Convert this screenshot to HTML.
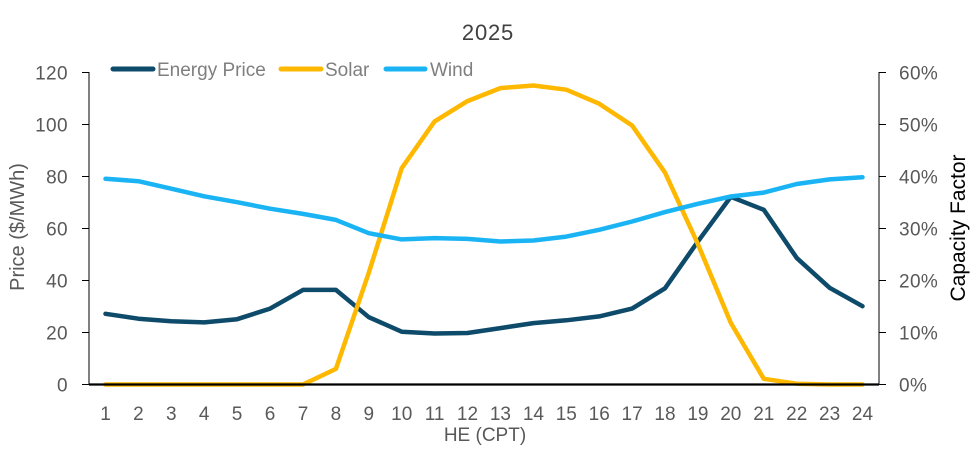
<!DOCTYPE html>
<html>
<head>
<meta charset="utf-8">
<style>
html,body{margin:0;padding:0;background:#fff;}
svg{display:block;}
text{font-family:"Liberation Sans",Arial,sans-serif;}
</style>
</head>
<body>
<svg width="977" height="452" viewBox="0 0 977 452" xmlns="http://www.w3.org/2000/svg">
<rect width="977" height="452" fill="#fff"/>
<!-- Title -->
<text x="488" y="40" font-size="22" fill="#404040" text-anchor="middle" letter-spacing="0.8">2025</text>

<!-- Legend -->
<g stroke-linecap="round" stroke-width="5">
<line x1="113" y1="69" x2="153" y2="69" stroke="#0E4A6A"/>
<line x1="281" y1="69" x2="321" y2="69" stroke="#FFB800"/>
<line x1="386" y1="69" x2="425" y2="69" stroke="#1AB4F5"/>
</g>
<g font-size="19" fill="#7F7F7F">
<text x="157" y="76">Energy Price</text>
<text x="325" y="76">Solar</text>
<text x="430" y="76">Wind</text>
</g>

<!-- Axes -->
<line x1="89" y1="72" x2="89" y2="385" stroke="#000" stroke-width="1"/>
<line x1="879" y1="72" x2="879" y2="385" stroke="#000" stroke-width="1"/>
<g stroke="#000" stroke-width="1">
<line x1="82" y1="72.5" x2="89" y2="72.5"/>
<line x1="82" y1="124.5" x2="89" y2="124.5"/>
<line x1="82" y1="176.5" x2="89" y2="176.5"/>
<line x1="82" y1="228.5" x2="89" y2="228.5"/>
<line x1="82" y1="280.5" x2="89" y2="280.5"/>
<line x1="82" y1="332.5" x2="89" y2="332.5"/>
<line x1="82" y1="384.5" x2="89" y2="384.5"/>
<line x1="879" y1="72.5" x2="886" y2="72.5"/>
<line x1="879" y1="124.5" x2="886" y2="124.5"/>
<line x1="879" y1="176.5" x2="886" y2="176.5"/>
<line x1="879" y1="228.5" x2="886" y2="228.5"/>
<line x1="879" y1="280.5" x2="886" y2="280.5"/>
<line x1="879" y1="332.5" x2="886" y2="332.5"/>
<line x1="879" y1="384.5" x2="886" y2="384.5"/>
</g>

<!-- Left tick labels -->
<g font-size="19" fill="#595959" text-anchor="end" letter-spacing="0.4">
<text x="68" y="79.5">120</text>
<text x="68" y="131.5">100</text>
<text x="68" y="183.5">80</text>
<text x="68" y="235.5">60</text>
<text x="68" y="287.5">40</text>
<text x="68" y="339.5">20</text>
<text x="68" y="391.5">0</text>
</g>
<!-- Right tick labels -->
<g font-size="19" fill="#595959" letter-spacing="0.4">
<text x="899" y="79.5">60%</text>
<text x="899" y="131.5">50%</text>
<text x="899" y="183.5">40%</text>
<text x="899" y="235.5">30%</text>
<text x="899" y="287.5">20%</text>
<text x="899" y="339.5">10%</text>
<text x="899" y="391.5">0%</text>
</g>

<!-- X tick labels -->
<g font-size="19" fill="#595959" text-anchor="middle">
<text x="105.5" y="420">1</text>
<text x="138.4" y="420">2</text>
<text x="171.3" y="420">3</text>
<text x="204.2" y="420">4</text>
<text x="237.1" y="420">5</text>
<text x="270.1" y="420">6</text>
<text x="303.0" y="420">7</text>
<text x="335.9" y="420">8</text>
<text x="368.8" y="420">9</text>
<text x="401.7" y="420">10</text>
<text x="434.6" y="420">11</text>
<text x="467.5" y="420">12</text>
<text x="500.4" y="420">13</text>
<text x="533.4" y="420">14</text>
<text x="566.3" y="420">15</text>
<text x="599.2" y="420">16</text>
<text x="632.1" y="420">17</text>
<text x="665.0" y="420">18</text>
<text x="697.9" y="420">19</text>
<text x="730.8" y="420">20</text>
<text x="763.8" y="420">21</text>
<text x="796.7" y="420">22</text>
<text x="829.6" y="420">23</text>
<text x="862.5" y="420">24</text>
</g>

<!-- Axis titles -->
<text x="485" y="441" font-size="19" fill="#595959" text-anchor="middle">HE (CPT)</text>
<text transform="translate(24,227) rotate(-90)" font-size="20" fill="#595959" text-anchor="middle">Price ($/MWh)</text>
<text transform="translate(965,228) rotate(-90)" font-size="21" fill="#000" text-anchor="middle">Capacity Factor</text>

<!-- Series -->
<g fill="none" stroke-width="4.5" stroke-linejoin="round" stroke-linecap="round">
<polyline stroke="#0E4A6A" points="105.5,313.8 138.4,318.7 171.3,321.3 204.2,322.4 237.1,319.2 270.1,308.6 303.0,289.9 335.9,289.9 368.8,317.2 401.7,331.7 434.6,333.5 467.5,333.0 500.4,328.1 533.4,323.1 566.3,320.3 599.2,316.4 632.1,308.6 665.0,288.3 697.9,241.5 730.8,196.8 763.8,209.8 796.7,257.9 829.6,287.8 862.5,306.2"/>
<polyline stroke="#FFB800" points="105.5,384.5 138.4,384.5 171.3,384.5 204.2,384.5 237.1,384.5 270.1,384.5 303.0,384.5 335.9,368.9 368.8,272.7 401.7,168.2 434.6,121.4 467.5,101.1 500.4,88.1 533.4,85.5 566.3,89.7 599.2,103.7 632.1,125.5 665.0,172.6 697.9,244.1 730.8,322.9 763.8,378.8 796.7,383.7 829.6,384.5 862.5,384.5"/>
<polyline stroke="#1AB4F5" points="105.5,178.8 138.4,181.2 171.3,188.7 204.2,196.3 237.1,202.2 270.1,208.7 303.0,213.9 335.9,219.9 368.8,233.2 401.7,239.4 434.6,238.1 467.5,238.9 500.4,241.5 533.4,240.5 566.3,236.6 599.2,229.8 632.1,221.5 665.0,212.1 697.9,203.8 730.8,196.5 763.8,192.6 796.7,184.0 829.6,179.4 862.5,177.3"/>
</g>
<!-- Bottom axis (drawn over) -->
<line x1="89" y1="384.5" x2="879" y2="384.5" stroke="#000" stroke-width="2.2"/>
</svg>
</body>
</html>
